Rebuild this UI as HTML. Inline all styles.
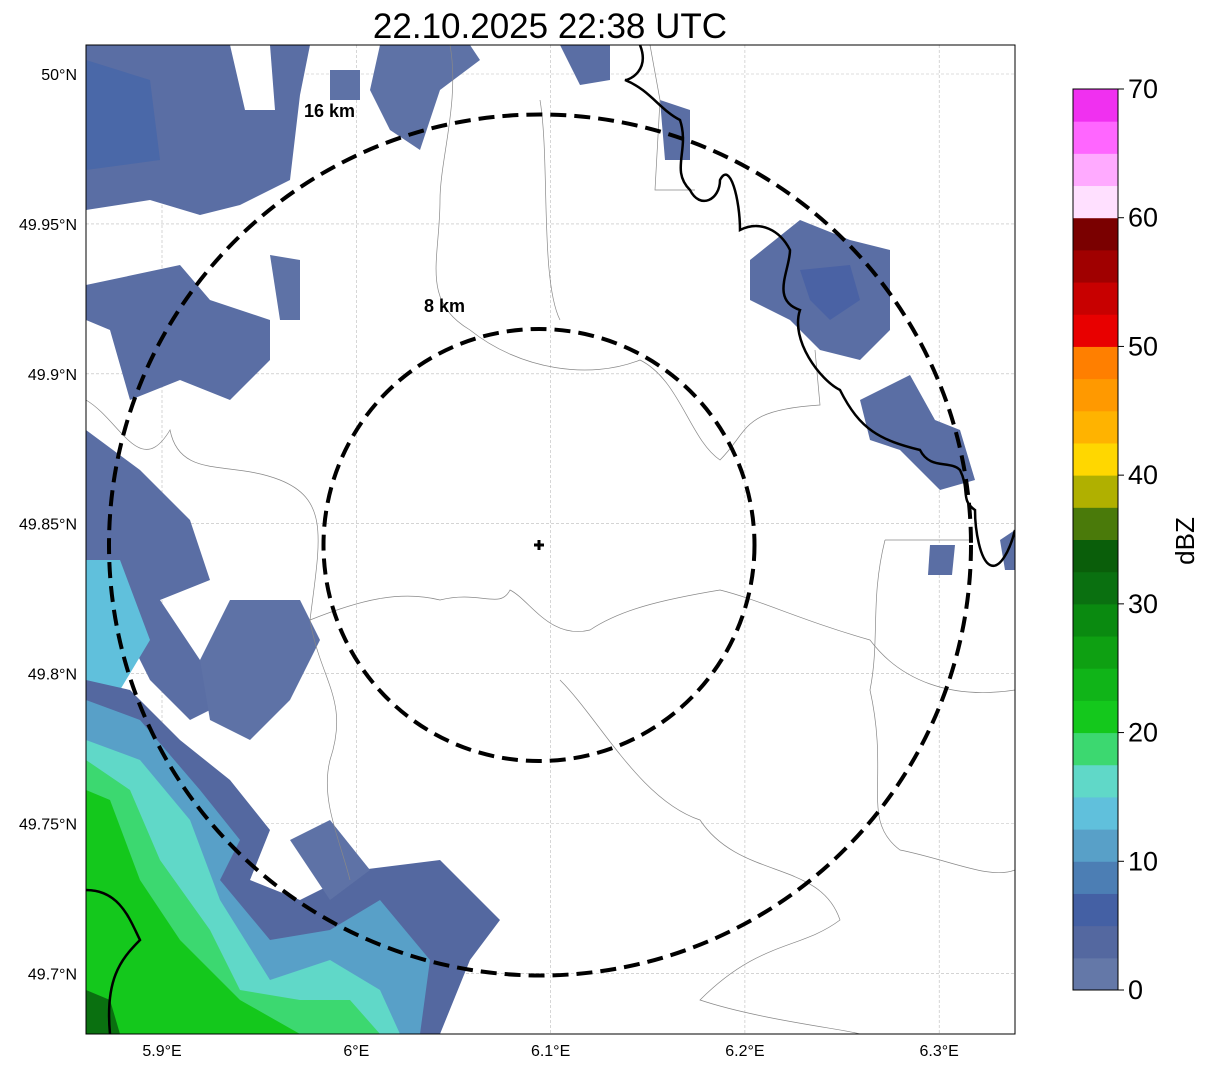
<!DOCTYPE html>
<html><head><meta charset="utf-8"><style>
html,body{margin:0;padding:0;background:#fff;}
svg{display:block;font-family:"Liberation Sans",sans-serif;}
</style></head><body>
<svg id="chart" width="1207" height="1069" viewBox="0 0 1207 1069" xmlns="http://www.w3.org/2000/svg">
<text x="550" y="38" font-size="35" text-anchor="middle">22.10.2025 22:38 UTC</text>
<defs><clipPath id="clip"><rect x="86" y="45" width="929" height="989"/></clipPath></defs>
<g id="grid"></g>
<g clip-path="url(#clip)" id="echoes">
 <polygon points="86,45 310,45 300,95 290,180 240,205 200,215 150,200 86,210" fill="#5a6ea4"/>
 <polygon points="230,45 270,45 275,110 245,110" fill="#fff"/>
 <polygon points="330,70 360,70 360,100 330,100" fill="#5e72a6"/>
 <polygon points="380,45 470,45 480,60 440,90 420,150 390,130 370,90" fill="#5e72a6"/>
 <polygon points="86,60 150,80 160,160 86,170" fill="#4a68a8"/>
 <polygon points="86,285 180,265 210,300 270,320 270,360 230,400 180,380 130,400 110,330 86,320" fill="#5a6ea4"/>
 <polygon points="270,255 300,260 300,320 280,320" fill="#5e72a6"/>
 <polygon points="86,430 140,470 190,520 210,580 160,600 200,660 230,700 190,720 150,680 120,620 86,600" fill="#5a6ea4"/>
 <polygon points="230,600 300,600 320,640 290,700 250,740 210,720 200,660" fill="#5e72a6"/>
 <polygon points="86,560 120,560 150,640 120,690 86,700" fill="#60c0dc"/>
 <polygon points="86,680 130,690 180,740 230,780 270,830 250,880 300,900 360,870 440,860 500,920 470,960 440,1034 86,1034" fill="#5468a0"/>
 <polygon points="86,700 140,720 200,790 240,840 220,880 270,940 330,930 380,900 430,960 420,1034 86,1034" fill="#58a0c8"/>
 <polygon points="290,840 330,820 370,870 330,900" fill="#5e72a6"/>
 <polygon points="86,740 140,760 190,820 220,900 270,980 330,960 380,990 400,1034 86,1034" fill="#60d8c8"/>
 <polygon points="86,760 130,790 160,860 210,930 240,990 300,1000 350,1000 380,1034 86,1034" fill="#3cd870"/>
 <polygon points="86,790 110,800 140,880 180,940 240,1000 300,1034 86,1034" fill="#14c81c"/>
 <polygon points="86,990 110,1000 120,1034 86,1034" fill="#0a7010"/>
 <polygon points="750,260 800,220 850,240 890,250 890,330 860,360 820,350 790,320 750,300" fill="#5a6ea4"/>
 <polygon points="800,270 850,265 860,300 830,320 810,300" fill="#4a62a4"/>
 <polygon points="860,400 910,375 935,420 960,430 975,480 940,490 900,450 870,440" fill="#5a6ea4"/>
 <polygon points="930,545 955,545 952,575 928,575" fill="#5a6ea4"/>
 <polygon points="1000,540 1015,530 1015,570 1005,570" fill="#5a6ea4"/>
 <polygon points="560,45 610,45 610,80 580,85" fill="#5a6ea4"/>
 <polygon points="660,100 690,110 690,160 665,160" fill="#5a6ea4"/>
</g>
<g clip-path="url(#clip)" fill="none" stroke="#888" stroke-width="0.7">
 <path d="M86,400 C120,420 140,480 170,430 C180,480 230,460 280,480 C330,500 320,540 310,620 C320,680 350,700 330,760 C320,800 340,840 350,880"/>
 <path d="M310,620 C360,600 400,590 440,600 C480,590 500,610 510,590 C530,600 550,640 590,630 C620,610 660,600 720,590 C760,600 800,620 870,640 C900,680 950,700 1015,690"/>
 <path d="M450,45 C460,100 440,160 440,200 C440,260 420,300 470,330 C520,370 590,380 640,360 C680,380 690,440 720,460 C750,430 740,410 820,405 L815,350"/>
 <path d="M540,100 C550,160 540,280 560,320"/>
 <path d="M650,45 L660,100 L655,190 L695,190"/>
 <path d="M885,540 L970,540 M885,540 C870,600 880,640 870,690 C890,780 860,820 900,850 C950,860 990,880 1015,870"/>
 <path d="M560,680 C600,720 640,800 700,820 C740,880 820,860 840,920 C800,950 760,940 700,1000 C760,1020 850,1030 860,1034"/>
</g>
<g clip-path="url(#clip)" fill="none" stroke="#000" stroke-width="2.5">
 <path d="M640,45 C650,70 630,80 625,80 C650,90 660,110 680,120 C690,150 670,170 690,190 C700,210 720,200 720,180 C730,160 740,200 740,230 C760,220 780,230 790,250 C790,270 770,300 800,310 C790,340 820,380 840,390 C860,430 880,440 920,450 C930,470 950,460 960,470 C970,490 960,500 975,510 C975,530 980,560 990,565 C1000,570 1010,550 1015,530"/>
 <path d="M86,890 C120,890 130,920 140,940 C120,960 105,980 110,1034"/>
</g>
<g fill="none" stroke="#000" stroke-width="4" stroke-dasharray="16,8">
 <ellipse cx="540" cy="545" rx="431" ry="430.5"/>
 <ellipse cx="539" cy="545" rx="215.5" ry="216"/>
</g>
<text x="304" y="117" font-size="18" font-weight="bold">16 km</text>
<text x="424" y="312" font-size="18" font-weight="bold">8 km</text>
<path d="M539,540 v10 M534,545 h10" stroke="#000" stroke-width="3"/>
<rect x="86" y="45" width="929" height="989" fill="none" stroke="#000" stroke-width="1"/>
<g id="axes"></g>
<g id="cbar"></g>
<text x="1194" y="541" font-size="26" text-anchor="middle" transform="rotate(-90 1194 541)">dBZ</text>
<script>
const lonTicks=[5.9,6.0,6.1,6.2,6.3];
const lonLabels=["5.9°E","6°E","6.1°E","6.2°E","6.3°E"];
const latTicks=[50.0,49.95,49.9,49.85,49.8,49.75,49.7];
const latLabels=["50°N","49.95°N","49.9°N","49.85°N","49.8°N","49.75°N","49.7°N"];
const cbColors=["#6478a8","#5468a0","#4460a4","#4c7eb4","#58a0c8","#60c0dc","#60d8c8","#3cd870","#14c81c","#10b418","#0ea012","#0a8a10","#0a7010","#0a5e0a","#4a7a0a","#b0b000","#ffd700","#ffb300","#ff9900","#ff7f00","#e80000","#c80000","#a00000","#7a0000","#ffe0ff","#ffaaff","#ff66ff","#f030f0"];
const cbTicks=[0,10,20,30,40,50,60,70];
const xs=lon=>162+(lon-5.9)*1943;
const ys=lat=>74+(50.0-lat)*2998;
const cy=v=>990-v*(901/70);
const NS="http://www.w3.org/2000/svg";
function mk(t,a,p){const e=document.createElementNS(NS,t);for(const k in a)e.setAttribute(k,a[k]);p.appendChild(e);return e;}
const grid=document.getElementById('grid'),axes=document.getElementById('axes'),cb=document.getElementById('cbar');
lonTicks.forEach((v,i)=>{const x=xs(v);
 const l=mk('line',{x1:x,x2:x,y1:45,y2:1034,stroke:'#bbb','stroke-width':0.6,'stroke-dasharray':'3,2'},grid);
 
 
 const t=mk('text',{x:x,y:1056,'font-size':16,'text-anchor':'middle'},axes);t.textContent=lonLabels[i];
 
 });
latTicks.forEach((v,i)=>{const y=ys(v);
 const l=mk('line',{x1:86,x2:1015,y1:y,y2:y,stroke:'#bbb','stroke-width':0.6,'stroke-dasharray':'3,2'},grid);
 
 
 const t=mk('text',{x:77,y:y+6,'font-size':16,'text-anchor':'end'},axes);t.textContent=latLabels[i];
 
 });
cbColors.forEach((c,i)=>{const y0=cy(i*2.5),y1=cy((i+1)*2.5);
 const r=mk('rect',{x:1073,y:y1,width:45,height:y0-y1+0.5,fill:c},cb);
 
 });
mk('rect',{x:1073,y:cy(70),width:45,height:cy(0)-cy(70),fill:'none',stroke:'#000','stroke-width':1},cb);
cbTicks.forEach(v=>{const y=cy(v);
 mk('line',{x1:1118,x2:1124,y1:y,y2:y,stroke:'#000'},cb);
 const t=mk('text',{x:1128,y:y+9,'font-size':27},cb);t.textContent=v;
 
 });
</script>
</svg>
</body></html>
